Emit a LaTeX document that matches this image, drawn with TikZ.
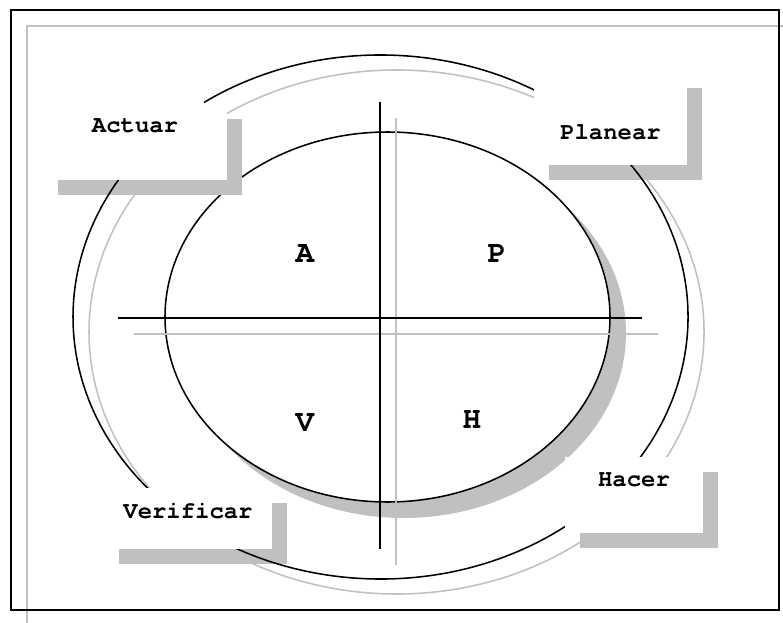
\documentclass[tikz,border=0pt]{standalone}
\usepackage{fontspec}
\setmonofont{TeX Gyre Cursor}[Ligatures={NoCommon,NoRequired}]
\definecolor{shadegray}{RGB}{192,192,192}
\pgfdeclarelayer{front}
\pgfsetlayers{main,front}

\begin{document}
\begin{tikzpicture}[x=0.025cm,y=-0.025cm,
  line/.style={line width=1.1pt},
  shade/.style={shadegray,line width=1.1pt},
  tag/.style={fill=white,inner sep=0pt,text height=0pt,text depth=0pt,font=\fontsize{17}{20}\selectfont\ttfamily\bfseries},
  quad/.style={anchor=base,font=\fontsize{22}{24}\selectfont\ttfamily\bfseries}]
\useasboundingbox (0,0) rectangle (783,623);
\clip (0,0) rectangle (783,623);
% page frame
\draw[shade] (27,26) rectangle (800,640);
\draw[line width=1.4pt] (11,10) rectangle (779,610);
% inner ellipse and cross
\fill[shadegray] (403.5,333) ellipse [x radius=222.5,y radius=185];
\draw[line,fill=white] (387.5,317) ellipse [x radius=222.5,y radius=185];
\draw[shade] (396,118) -- (396,565);
\draw[shade] (134,334) -- (658,334);
\draw[line] (380,102) -- (380,549);
\draw[line] (118,318) -- (642,318);
% label boxes
\begin{pgfonlayer}{front}
\node[tag,minimum width=4.6cm,minimum height=1.9cm,text depth=12.8pt] (actuar) at (135,142) {Actuar};
\node[tag,minimum width=3.825cm,minimum height=2.3cm,text height=28.5pt] (planear) at (610.5,119) {Planear};
\node[tag,minimum width=4.2cm,minimum height=1.525cm] (verificar) at (188,518.5) {Verificar};
\node[tag,minimum width=3.45cm,minimum height=1.9cm,text depth=11.4pt] (hacer) at (634,495) {Hacer};
\end{pgfonlayer}
\foreach \b in {actuar,planear,verificar,hacer}
  \fill[shadegray] ([shift={(15,15)}]\b.north west) rectangle ([shift={(15,15)}]\b.south east);
% outer arc
\draw[shade] (396.5,332) ++(-125:307.5 and 262) arc[start angle=-125,end angle=220,x radius=307.5,y radius=262];
\draw[line] (380.5,317) ++(-125:307.5 and 262) arc[start angle=-125,end angle=220,x radius=307.5,y radius=262];
% quadrant letters
\node[quad] (qa) at (305,263) {A};
\node[quad] (qp) at (497,263) {P};
\node[quad] (qv) at (305,431) {V};
\node[quad] (qh) at (472,428) {H};
\end{tikzpicture}
\end{document}
